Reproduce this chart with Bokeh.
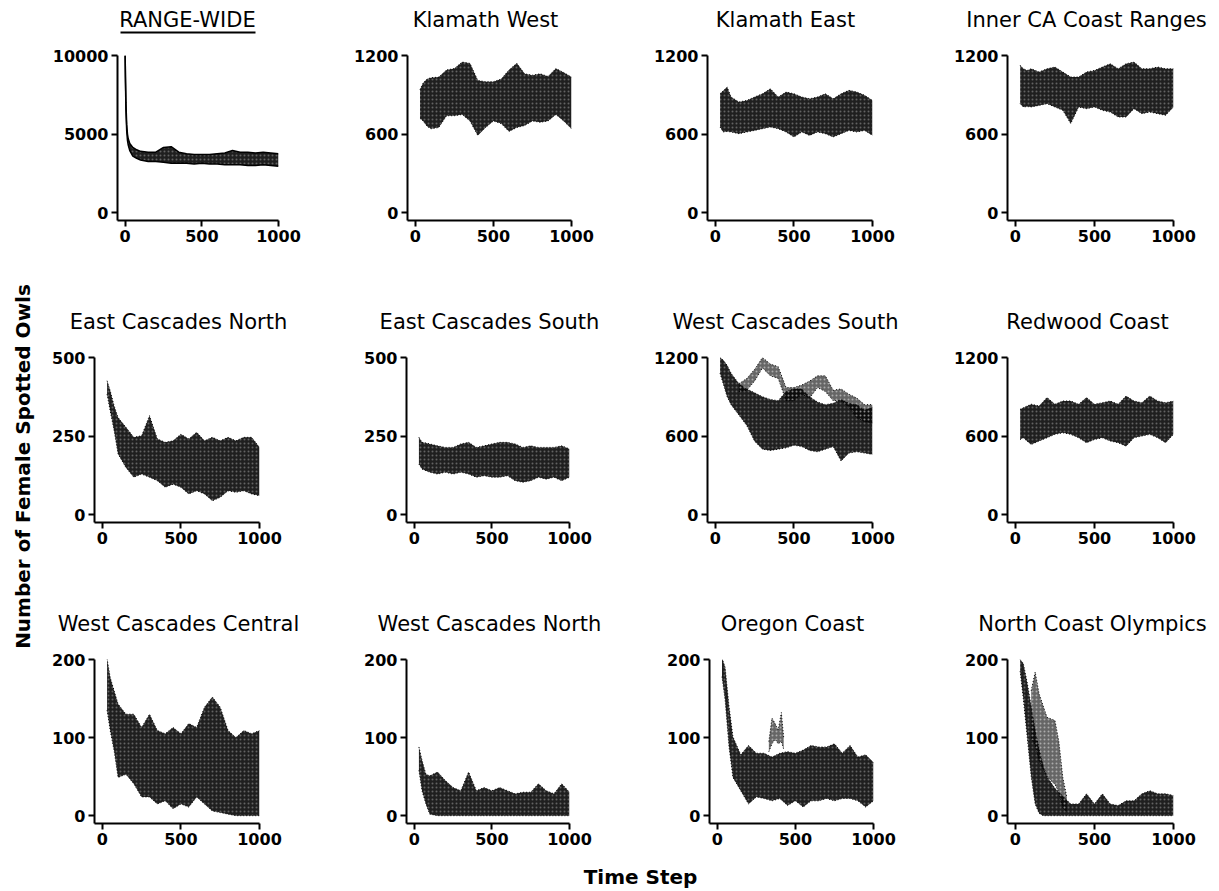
import math
from bokeh.plotting import figure
from bokeh.layouts import row, column
from bokeh.models import FixedTicker, Label, Range1d
from bokeh.embed import file_html
from bokeh.resources import INLINE

# ---------------- data ----------------
STEPS = [30, 50, 75, 100, 150, 200, 250, 300, 350, 400, 450, 500, 550, 600, 650, 700, 750, 800, 850, 900, 950, 1000]

RW_T = [0, 2, 5, 10, 15, 20, 30, 50, 75, 100, 150, 200, 250, 300, 350, 400, 450, 500, 550, 600, 650, 700, 750, 800, 850, 900, 950, 1000]
RW_HI = [10000, 8600, 7000, 5600, 5000, 4700, 4400, 4150, 4000, 3900, 3850, 3850, 4150, 4200, 3850, 3750, 3700, 3700, 3700, 3750, 3800, 3950, 3850, 3850, 3800, 3850, 3800, 3750]
RW_LO = [10000, 8300, 6500, 5200, 4600, 4300, 3950, 3600, 3450, 3350, 3250, 3250, 3200, 3150, 3150, 3150, 3100, 3150, 3100, 3100, 3050, 3050, 3050, 3000, 3000, 3050, 3000, 2950]

KW_HI = [940, 990, 1020, 1030, 1035, 1090, 1100, 1150, 1140, 1010, 1000, 1000, 1020, 1090, 1140, 1060, 1050, 1060, 1040, 1100, 1070, 1035]
KW_LO = [720, 700, 660, 640, 650, 740, 740, 750, 700, 590, 650, 700, 680, 620, 650, 665, 700, 690, 700, 750, 700, 640]

KE_HI = [908, 930, 959, 883, 845, 857, 883, 908, 946, 883, 921, 908, 883, 870, 883, 908, 870, 908, 934, 921, 896, 857]
KE_LO = [654, 616, 620, 616, 603, 616, 628, 641, 654, 641, 616, 578, 616, 590, 616, 603, 578, 603, 628, 616, 628, 590]

IC_HI = [1125, 1099, 1086, 1099, 1074, 1099, 1112, 1074, 1036, 1036, 1074, 1086, 1112, 1137, 1099, 1137, 1150, 1099, 1099, 1112, 1099, 1099]
IC_LO = [832, 807, 810, 807, 819, 832, 807, 781, 680, 807, 794, 807, 781, 768, 730, 730, 794, 756, 768, 756, 743, 807]

ECN_HI = [426, 394, 346, 309, 278, 246, 251, 315, 241, 230, 235, 256, 241, 262, 235, 246, 235, 246, 235, 246, 246, 214]
ECN_LO = [383, 330, 267, 193, 150, 119, 129, 119, 108, 87, 97, 87, 66, 76, 66, 44, 55, 76, 71, 76, 66, 60]

ECS_HI = [246, 230, 228, 225, 219, 214, 214, 225, 230, 214, 219, 225, 230, 230, 225, 214, 219, 214, 214, 214, 219, 209]
ECS_LO = [161, 145, 140, 135, 129, 135, 129, 135, 129, 119, 124, 119, 119, 124, 108, 103, 108, 119, 113, 119, 108, 119]

WCS_HI = [1200, 1180, 1140, 1080, 1000, 960, 930, 900, 880, 870, 940, 960, 960, 900, 860, 840, 850, 880, 850, 840, 800, 820]
WCS_LO = [1080, 1000, 900, 840, 760, 680, 560, 500, 490, 500, 510, 530, 520, 490, 480, 500, 520, 410, 470, 480, 470, 460]
WCS2_T = [150, 200, 250, 300, 350, 400, 450, 500, 550, 600, 650, 700, 750, 800, 850, 900, 950, 1000]
WCS2_HI = [1000, 1040, 1110, 1200, 1150, 1130, 970, 970, 990, 1020, 1060, 1060, 950, 960, 920, 890, 840, 840]
WCS2_LO = [940, 950, 1020, 1120, 1060, 1040, 870, 870, 920, 890, 970, 940, 870, 870, 820, 740, 710, 700]

RC_HI = [804, 817, 830, 843, 830, 894, 843, 868, 868, 843, 894, 843, 855, 868, 843, 906, 868, 855, 906, 868, 855, 868]
RC_LO = [574, 587, 560, 536, 562, 587, 613, 625, 613, 587, 549, 574, 587, 562, 549, 523, 587, 600, 613, 587, 549, 613]

WCC_HI = [201, 177, 160, 143, 130, 130, 113, 130, 109, 105, 113, 105, 118, 113, 139, 152, 139, 109, 100, 109, 105, 109]
WCC_LO = [135, 109, 83, 49, 53, 41, 24, 24, 15, 19, 9, 15, 11, 24, 15, 6, 4, 2, 0, 0, 0, 0]

WCN_HI = [88, 71, 53, 51, 56, 45, 36, 32, 56, 32, 36, 32, 36, 32, 28, 30, 30, 41, 32, 28, 41, 30]
WCN_LO = [58, 32, 15, 2, 0, 0, 0, 0, 0, 0, 0, 0, 0, 0, 0, 0, 0, 0, 0, 0, 0, 0]

OC_HI = [202, 190, 140, 101, 78, 90, 80, 80, 75, 80, 82, 80, 84, 90, 88, 88, 92, 80, 90, 75, 78, 68]
OC_LO = [178, 148, 88, 49, 32, 15, 24, 22, 19, 22, 13, 19, 11, 19, 19, 22, 19, 22, 22, 19, 11, 19]
OC2_T = [330, 350, 370, 390, 410, 425]
OC2_HI = [95, 125, 118, 110, 132, 100]
OC2_LO = [82, 92, 98, 92, 95, 85]

NCO_T = [30, 50, 75, 100, 125, 150, 175, 200, 250, 300, 350, 400, 450, 500, 550, 600, 650, 700, 750, 800, 850, 900, 950, 1000]
NCO_HI = [200, 195, 170, 140, 110, 85, 65, 50, 35, 25, 15, 15, 28, 15, 28, 15, 13, 19, 19, 28, 32, 28, 28, 26]
NCO_LO = [185, 150, 100, 50, 15, 3, 0, 0, 0, 0, 0, 0, 0, 0, 0, 0, 0, 0, 0, 0, 0, 0, 0, 0]
NCO2_T = [100, 125, 150, 200, 250, 275, 300, 325]
NCO2_HI = [160, 184, 156, 126, 122, 95, 49, 24]
NCO2_LO = [100, 90, 70, 50, 40, 30, 10, 5]

TITLES = ["RANGE-WIDE", "Klamath West", "Klamath East", "Inner CA Coast Ranges",
          "East Cascades North", "East Cascades South", "West Cascades South", "Redwood Coast",
          "West Cascades Central", "West Cascades North", "Oregon Coast", "North Coast Olympics"]
Y_MAX = [10000, 1200, 1200, 1200, 500, 500, 1200, 1200, 200, 200, 200, 200]
X_TICKS = [0, 500, 1000]

# bands per panel: (x, lower, upper, dense?)
BANDS = [
    [(RW_T, RW_LO, RW_HI, True)],
    [(STEPS, KW_LO, KW_HI, True)],
    [(STEPS, KE_LO, KE_HI, True)],
    [(STEPS, IC_LO, IC_HI, True)],
    [(STEPS, ECN_LO, ECN_HI, True)],
    [(STEPS, ECS_LO, ECS_HI, True)],
    [(STEPS, WCS_LO, WCS_HI, True), (WCS2_T, WCS2_LO, WCS2_HI, False)],
    [(STEPS, RC_LO, RC_HI, True)],
    [(STEPS, WCC_LO, WCC_HI, True)],
    [(STEPS, WCN_LO, WCN_HI, True)],
    [(STEPS, OC_LO, OC_HI, True), (OC2_T, OC2_LO, OC2_HI, False)],
    [(NCO_T, NCO_LO, NCO_HI, True), (NCO2_T, NCO2_LO, NCO2_HI, False)],
]

# ---------------- layout (page pixel geometry) ----------------
CELL_X = [(38, 310), (310, 610), (610, 910), (910, 1211)]
STRIP_Y = [(0, 45), (300, 345), (600, 645)]
CELL_Y = [(45, 300), (345, 600), (645, 858)]
FRAME_TB = [(55, 220), (357, 522), (659, 823)]
FRAME_LR = [[(117, 278), (407, 571), (707, 872), (1007, 1173)],
            [(94, 259), (406, 569), (707, 872), (1007, 1173)],
            [(94, 259), (406, 569), (709, 873), (1007, 1173)]]
TITLE_CX = [[187, 485, 785, 1086], [178, 489, 785, 1087], [178, 489, 792, 1092]]
TITLE_BASE = [28, 330, 632]      # visual baseline of the titles
TITLE_SHIFT = 9                  # renderer places alphabetic baseline this much lower
UNDERLINE = (120, 255, 32)

FONT = "DejaVu Sans"


def make_panel(i, r, c):
    ymax = Y_MAX[i]
    cx0, cx1 = CELL_X[c]
    cy0, cy1 = CELL_Y[r]
    ft, fb = FRAME_TB[r]
    fl, fr = FRAME_LR[r][c]
    ymin = -0.05 * ymax
    p = figure(width=cx1 - cx0, height=cy1 - cy0,
               x_range=Range1d(-50, 1000), y_range=Range1d(ymin, ymax),
               min_border_left=fl - cx0, min_border_right=cx1 - fr,
               min_border_top=ft - cy0, min_border_bottom=cy1 - fb,
               output_backend="svg", toolbar_location=None)
    p.outline_line_color = None
    p.xgrid.visible = False
    p.ygrid.visible = False
    p.background_fill_color = "white"
    p.border_fill_color = "white"
    for ax in (p.xaxis[0], p.yaxis[0]):
        ax.axis_line_width = 2
        ax.axis_line_color = "black"
        ax.major_tick_line_width = 2
        ax.major_tick_line_color = "black"
        ax.major_tick_out = 6
        ax.major_tick_in = 0
        ax.minor_tick_line_color = None
        ax.major_label_text_font = FONT
        ax.major_label_text_font_style = "bold"
        ax.major_label_text_font_size = "16px"
        ax.major_label_text_color = "black"
        ax.major_label_standoff = 3
    p.xaxis.ticker = FixedTicker(ticks=X_TICKS)
    p.yaxis.ticker = FixedTicker(ticks=[0, ymax // 2, ymax])

    for (xs, lo, hi, dense) in BANDS[i]:
        p.varea(x=xs, y1=lo, y2=hi, fill_color="black",
                fill_alpha=0.88 if dense else 0.6,
                hatch_pattern="dot", hatch_color="white",
                hatch_alpha=0.3 if dense else 0.45, hatch_scale=4, hatch_weight=1.0)
        lw = 1.5 if i == 0 else 1.0
        dash = "solid" if i == 0 else "1 2"
        p.line(xs, hi, line_color="black", line_width=lw, line_dash=dash)
        p.line(xs, lo, line_color="black", line_width=lw, line_dash=dash)
    return p


def bare(width, height, x0, x1, y0, y1):
    f = figure(width=width, height=height, x_range=Range1d(x0, x1), y_range=Range1d(y0, y1),
               min_border=0, x_axis_location=None, y_axis_location=None,
               output_backend="svg", toolbar_location=None)
    f.outline_line_color = None
    f.xgrid.visible = False
    f.ygrid.visible = False
    f.background_fill_color = "white"
    f.border_fill_color = "white"
    return f


blocks = []
for r in range(3):
    sy0, sy1 = STRIP_Y[r]
    h = sy1 - sy0
    strip = bare(1211 - 38, h, 38, 1211, 0, h)
    for c in range(4):
        strip.add_layout(Label(x=TITLE_CX[r][c], y=sy1 - (TITLE_BASE[r] - TITLE_SHIFT),
                               text=TITLES[r * 4 + c],
                               text_align="center", text_baseline="alphabetic",
                               text_font=FONT, text_font_size="21px", text_color="black"))
    if r == 0:
        ux0, ux1, uy = UNDERLINE
        strip.line([ux0, ux1], [sy1 - uy, sy1 - uy], line_color="black", line_width=2)
    blocks.append(strip)
    blocks.append(row(*[make_panel(r * 4 + c, r, c) for c in range(4)]))
grid = column(*blocks)

ylab = bare(38, 858, 0, 38, 0, 858)
ylab.add_layout(Label(x=22, y=858 - 466, text="Number of Female Spotted Owls", angle=math.pi / 2,
                      text_align="center", text_baseline="middle", text_color="black",
                      text_font=FONT, text_font_style="bold", text_font_size="20px"))

xlab = bare(1211, 31, 0, 1211, 0, 31)
xlab.add_layout(Label(x=640, y=31 - 18, text="Time Step",
                      text_align="center", text_baseline="middle", text_color="black",
                      text_font=FONT, text_font_style="bold", text_font_size="20px"))

layout = column(row(ylab, grid), xlab)
open("out.html", "w").write(file_html(layout, INLINE))
